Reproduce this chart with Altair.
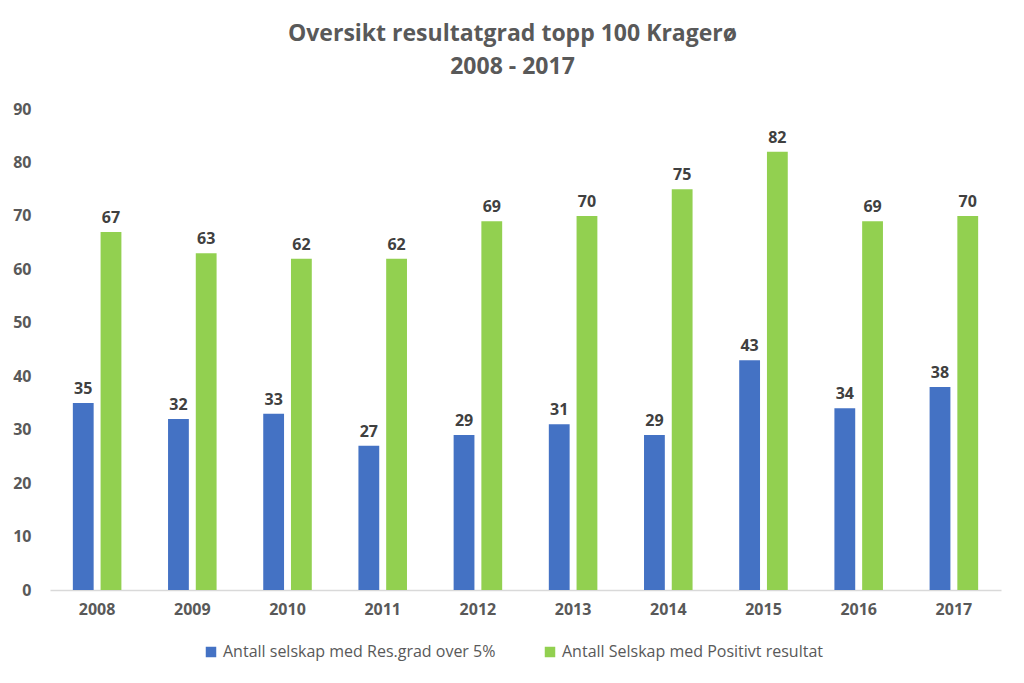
import altair as alt
import pandas as pd

years = ["2008", "2009", "2010", "2011", "2012", "2013", "2014", "2015", "2016", "2017"]
res_grad = [35, 32, 33, 27, 29, 31, 29, 43, 34, 38]
positivt = [67, 63, 62, 62, 69, 70, 75, 82, 69, 70]
series = ["Antall selskap med Res.grad over 5%", "Antall Selskap med Positivt resultat"]
colors = ["#4472C4", "#92D050"]

rows = []
for y, a, b in zip(years, res_grad, positivt):
    rows.append({"year": y, "serie": series[0], "value": a})
    rows.append({"year": y, "serie": series[1], "value": b})
df = pd.DataFrame(rows)

FONT = "Open Sans"

base = alt.Chart(df).encode(
    x=alt.X("year:N", sort=years, title=None,
            scale=alt.Scale(paddingInner=0.49, paddingOuter=0.24),
            axis=alt.Axis(labelAngle=0, labelFontSize=16, labelFontWeight="bold",
                          labelColor="#595959", labelFont=FONT, ticks=False,
                          domainColor="#D9D9D9", domainWidth=1.5, labelPadding=11)),
    xOffset=alt.XOffset("serie:N", sort=series, scale=alt.Scale(paddingInner=0.25)),
    y=alt.Y("value:Q", title=None,
            scale=alt.Scale(domain=[0, 90]),
            axis=alt.Axis(values=list(range(0, 91, 10)), grid=False, domain=False, ticks=False,
                          labelFontSize=16, labelFontWeight="bold", labelColor="#595959",
                          labelFont=FONT, labelPadding=19)),
)

bars = base.mark_bar().encode(
    color=alt.Color("serie:N", sort=series, title=None,
                    scale=alt.Scale(domain=series, range=colors),
                    legend=alt.Legend(orient="none", direction="horizontal", legendX=153, legendY=535,
                                      symbolType="square", symbolSize=110, symbolStrokeWidth=0,
                                      labelFontSize=16, labelFont=FONT, labelColor="#595959",
                                      columnPadding=46, labelLimit=400))
)

labels = base.mark_text(dy=-14, fontSize=16, fontWeight="bold", color="#404040", font=FONT).encode(
    text="value:Q"
)

chart = (bars + labels).properties(
    width=951, height=481,
    autosize=alt.AutoSizeParams(type="none"),
    padding={"left": 42, "top": 101, "right": 14, "bottom": 85},
    title=alt.TitleParams(["Oversikt resultatgrad topp 100 Kragerø", "2008 - 2017"],
                          fontSize=23, fontWeight="bold", color="#595959", font=FONT,
                          anchor="middle", offset=22, dx=-13, lineHeight=33),
).configure_view(stroke=None)

chart.save("out.html", embed_options={"renderer": "svg", "actions": False})
